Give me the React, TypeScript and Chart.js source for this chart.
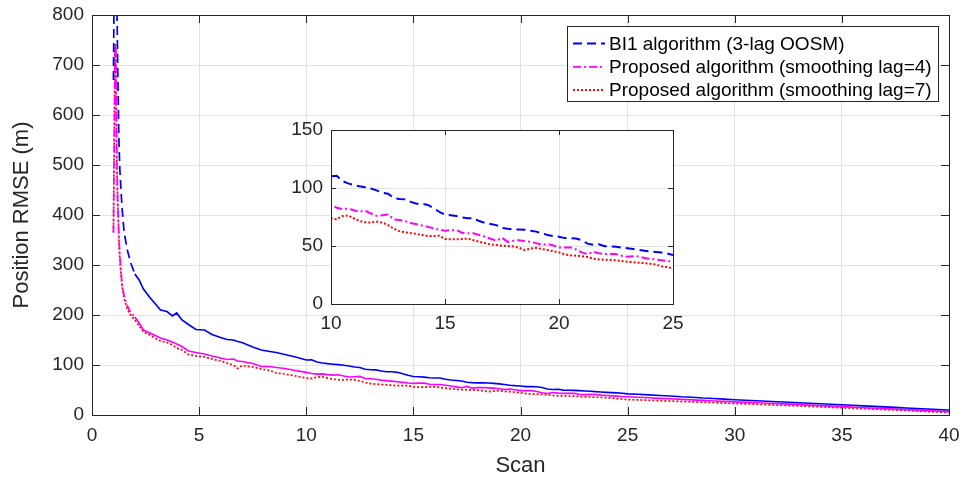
import React, { useEffect, useRef } from "react";
import { Chart, registerables } from "chart.js";

Chart.register(...registerables);

// ---------------- data ----------------
const scans = [
  1.0, 1.04, 1.08, 1.12, 1.16, 1.2, 1.25, 1.3, 1.4, 1.5, 1.65, 1.8, 2.0, 2.2, 2.4, 2.7, 3.0, 3.2, 3.5, 3.75,
  3.95, 4.2, 4.5, 4.85, 5.25, 5.6, 6.0, 6.3, 6.6, 6.8, 7.0, 7.5, 7.9, 8.3, 8.6, 9.0, 9.5,
  10, 10.25, 10.5, 10.75, 11, 11.25, 11.5, 11.75, 12, 12.25, 12.5, 12.75, 13, 13.25, 13.5, 13.75,
  14, 14.25, 14.5, 14.75, 15, 15.25, 15.5, 15.75, 16, 16.25, 16.5, 16.75, 17, 17.25, 17.5, 17.75,
  18, 18.25, 18.5, 18.75, 19, 19.25, 19.5, 19.75, 20, 20.25, 20.5, 20.75, 21, 21.25, 21.5, 21.75,
  22, 22.25, 22.5, 22.75, 23, 23.25, 23.5, 23.75, 24, 24.25, 24.5, 24.75, 25,
  25.5, 26, 26.5, 27, 27.5, 28, 28.5, 29, 29.5, 30, 30.5, 31, 31.5, 32, 32.5, 33, 33.5, 34, 34.5, 35,
  35.5, 36, 36.5, 37, 37.5, 38, 38.5, 39, 39.5, 40,
];

const bi1Rmse = [
  670, 900, 1100, 1000, 830, 700, 560, 490, 415, 365, 330, 305, 282, 270, 252, 235, 220, 210, 207, 198,
  204, 190, 181, 171, 170, 161, 155, 151, 150, 147, 145, 136, 130, 127, 125, 121, 116,
  110, 110.5, 106, 104, 102.6, 101.5, 100.6, 99.5, 98, 96, 95, 91.5, 90.5, 90.2, 88, 86.5,
  86.5, 85.4, 82.5, 79.5, 77, 76.5, 75.8, 74.5, 74, 74, 71.5, 70, 69, 68, 65.5, 64.8,
  64.4, 64.2, 64, 63.2, 62.4, 61, 59.5, 58.6, 58, 56.8, 56.8, 56.5, 55, 52, 51, 51.5,
  49.8, 49.5, 49.4, 48.6, 48, 47.5, 46.6, 46, 45.3, 44.8, 44.3, 43.5, 42.2,
  41.5, 40.2, 39, 38, 36.5, 35.5, 34, 33, 31.8, 30.5, 29.5, 28.5, 27.5, 26.5, 25.5, 24.5, 23.5, 22.5, 21.5, 20.5,
  19.5, 18.3, 17.2, 16.2, 15.2, 14, 13, 12, 11, 10,
];

const lag4Rmse = [
  365, 560, 740, 660, 510, 430, 365, 318, 262, 238, 218, 206, 196, 184, 170, 164, 158, 154, 150, 146,
  142, 137, 128, 125, 122, 118, 114, 111, 112, 108, 107, 103, 97, 97, 95, 93, 89,
  85.4, 83, 81.8, 82.3, 80.8, 79.6, 80.5, 78, 76, 76.5, 77.2, 73, 72.5, 71.5, 69.8, 68.8,
  67.6, 66.5, 65.2, 64, 63.2, 63.6, 63.8, 61.5, 61, 61, 59.5, 58, 56.3, 54.5, 57, 53.6,
  54.6, 55, 54.2, 53.6, 52.5, 51, 51.8, 50.5, 48.6, 48.6, 48.8, 47, 44.5, 43, 45, 43.8,
  43.2, 43.1, 43.1, 41.5, 40.8, 41.2, 41, 39.6, 39, 38.3, 37.8, 37, 36.5,
  35.5, 34.5, 33.3, 32.5, 31.3, 30.2, 29.2, 28, 27.2, 26.2, 25.3, 24.5, 23.5, 22.6, 21.7, 20.8, 19.8, 18.9, 17.8, 16.8,
  15.6, 14.5, 13.5, 12.6, 11.6, 10.6, 9.6, 8.7, 7.8, 6.8,
];

const lag7Rmse = [
  365, 570, 742, 650, 500, 420, 355, 310, 258, 232, 212, 200, 190, 178, 166, 160, 152, 148, 145, 140,
  134, 130, 121, 118, 116, 112, 108, 104, 100, 93, 99, 96, 92, 89, 84, 82, 78,
  73.9, 73, 75.8, 76.3, 73.9, 71.5, 70.5, 70.2, 71, 70.3, 68, 65, 62.8, 61.8, 61, 60.4,
  59.5, 58.6, 58.6, 58.8, 56, 55.8, 55.8, 56, 56.4, 55, 53.7, 52.5, 51.3, 50.8, 50.3, 50,
  49.6, 48.5, 46.5, 47.8, 48.5, 47.3, 46.5, 45.5, 44.5, 42.8, 42, 41.7, 41.2, 40.6, 39, 38.4,
  38.2, 38, 37.6, 37, 36.4, 36, 35.6, 35.2, 34.7, 34, 32.5, 31.8, 30.8,
  30.2, 29.5, 28.6, 27.8, 27, 26.3, 25.4, 24.6, 23.8, 23, 22.2, 21.3, 20.5, 19.8, 19, 18.1, 17.3, 16.4, 15.5, 14.6,
  13.6, 12.6, 11.7, 10.8, 9.9, 8.9, 8, 7, 6, 5,
];

const seriesLabels = [
  "BI1 algorithm (3-lag OOSM)",
  "Proposed algorithm (smoothing lag=4)",
  "Proposed algorithm (smoothing lag=7)",
];
const seriesColors = ["#0000ff", "#ff00ff", "#ff0000"];
const seriesDashes = [[9, 5], [8, 3, 2, 3], [2, 2]];

const xTitle = "Scan";
const yTitle = "Position RMSE (m)";

// ---------------- styling helpers ----------------
const FONT = "'Liberation Sans', Arial, Helvetica, sans-serif";
const AXIS_COLOR = "#262626";
const GRID_COLOR = "#e3e3e3";

function toPoints(ys: number[]) {
  return scans.map((x, i) => ({ x, y: ys[i] }));
}

function fitX(height: number) {
  return (s: any) => {
    s.height = height;
    s.paddingLeft = 0;
    s.paddingRight = 0;
  };
}

function fitY(width: number) {
  return (s: any) => {
    s.width = width;
    s.paddingTop = 0;
    s.paddingBottom = 0;
  };
}

function framePlugin(tickLen: number) {
  return {
    id: "frame" + tickLen,
    beforeDraw(chart: any) {
      const { ctx, chartArea: a } = chart;
      ctx.save();
      ctx.fillStyle = "#ffffff";
      ctx.fillRect(a.left, a.top, a.right - a.left, a.bottom - a.top);
      ctx.restore();
    },
    afterDatasetsDraw(chart: any) {
      const { ctx, chartArea: a, scales } = chart;
      const xs = scales.x;
      const ys = scales.y;
      ctx.save();
      ctx.strokeStyle = AXIS_COLOR;
      ctx.lineWidth = 1;
      ctx.beginPath();
      xs.ticks.forEach((t: any) => {
        const px = Math.round(xs.getPixelForValue(t.value)) + 0.5;
        ctx.moveTo(px, a.bottom);
        ctx.lineTo(px, a.bottom - tickLen);
        ctx.moveTo(px, a.top);
        ctx.lineTo(px, a.top + tickLen);
      });
      ys.ticks.forEach((t: any) => {
        const py = Math.round(ys.getPixelForValue(t.value)) + 0.5;
        ctx.moveTo(a.left, py);
        ctx.lineTo(a.left + tickLen, py);
        ctx.moveTo(a.right, py);
        ctx.lineTo(a.right - tickLen, py);
      });
      ctx.stroke();
      ctx.strokeRect(
        Math.round(a.left) + 0.5,
        Math.round(a.top) + 0.5,
        Math.round(a.right - a.left),
        Math.round(a.bottom - a.top)
      );
      ctx.restore();
    },
  };
}

const legendPlugin = {
  id: "boxLegend",
  afterDraw(chart: any) {
    const { ctx } = chart;
    const left = 567;
    const top = 26.5;
    const w = 371;
    const h = 75;
    const rows = [43.5, 66.8, 90];
    ctx.save();
    ctx.fillStyle = "#ffffff";
    ctx.fillRect(left, top, w, h);
    ctx.strokeStyle = AXIS_COLOR;
    ctx.lineWidth = 1;
    ctx.strokeRect(left + 0.5, top, w, h);
    chart.data.datasets.forEach((ds: any, i: number) => {
      const y = rows[i];
      ctx.beginPath();
      ctx.strokeStyle = ds.borderColor;
      ctx.lineWidth = 1.8;
      ctx.setLineDash(seriesDashes[i]);
      ctx.moveTo(573, y);
      ctx.lineTo(605, y);
      ctx.stroke();
      ctx.setLineDash([]);
      ctx.fillStyle = "#000000";
      ctx.font = `19px ${FONT}`;
      ctx.textBaseline = "middle";
      ctx.textAlign = "left";
      ctx.fillText(ds.label, 609, y + 1);
    });
    ctx.restore();
  },
};

function makeDatasets(inset: boolean) {
  const values = [bi1Rmse, lag4Rmse, lag7Rmse];
  return values.map((vals, i) => {
    const ds: any = {
      label: seriesLabels[i],
      data: toPoints(vals),
      borderColor: seriesColors[i],
      backgroundColor: seriesColors[i],
      borderWidth: inset ? 2 : 1.7,
      pointRadius: 0,
      tension: 0,
      fill: false,
      borderDash: inset || i === 2 ? seriesDashes[i] : [],
    };
    if (!inset && i !== 2) {
      ds.segment = {
        borderDash: (c: any) => (c.p0.parsed.x < 2 ? seriesDashes[i] : undefined),
      };
    }
    return ds;
  });
}

export default function App() {
  const mainRef = useRef<HTMLCanvasElement | null>(null);
  const insetRef = useRef<HTMLCanvasElement | null>(null);

  useEffect(() => {
    Chart.defaults.font.family = FONT;
    Chart.defaults.color = AXIS_COLOR;

    const main = new Chart(mainRef.current as HTMLCanvasElement, {
      type: "line",
      data: { datasets: makeDatasets(false) },
      options: {
        animation: false,
        responsive: false,
        devicePixelRatio: 1,
        layout: { padding: { top: 15, right: 15, left: 0, bottom: 0 } },
        plugins: { legend: { display: false }, tooltip: { enabled: false } },
        scales: {
          x: {
            type: "linear",
            min: 0,
            max: 40,
            afterFit: fitX(66),
            ticks: { stepSize: 5, font: { size: 19 }, color: AXIS_COLOR, padding: 9, maxRotation: 0 },
            grid: { color: GRID_COLOR, drawTicks: false },
            border: { display: false },
            title: {
              display: true,
              text: xTitle,
              font: { size: 22 },
              color: AXIS_COLOR,
              padding: { top: 0, bottom: 2 },
            },
          },
          y: {
            type: "linear",
            min: 0,
            max: 800,
            afterFit: fitY(92),
            ticks: { stepSize: 100, font: { size: 19 }, color: AXIS_COLOR, padding: 8 },
            grid: { color: GRID_COLOR, drawTicks: false },
            border: { display: false },
            title: {
              display: true,
              text: yTitle,
              font: { size: 22 },
              color: AXIS_COLOR,
              padding: { top: 9, bottom: 0 },
            },
          },
        },
      } as any,
      plugins: [framePlugin(8), legendPlugin],
    });

    const inset = new Chart(insetRef.current as HTMLCanvasElement, {
      type: "line",
      data: { datasets: makeDatasets(true) },
      options: {
        animation: false,
        responsive: false,
        devicePixelRatio: 1,
        layout: { padding: { top: 20, right: 17, left: 0, bottom: 0 } },
        plugins: { legend: { display: false }, tooltip: { enabled: false } },
        scales: {
          x: {
            type: "linear",
            min: 10,
            max: 25,
            afterFit: fitX(46),
            ticks: { stepSize: 5, font: { size: 19 }, color: AXIS_COLOR, padding: 8, maxRotation: 0 },
            grid: { color: GRID_COLOR, drawTicks: false },
            border: { display: false },
          },
          y: {
            type: "linear",
            min: 0,
            max: 150,
            afterFit: fitY(61),
            ticks: { stepSize: 50, font: { size: 19 }, color: AXIS_COLOR, padding: 8 },
            grid: { color: GRID_COLOR, drawTicks: false },
            border: { display: false },
          },
        },
      } as any,
      plugins: [framePlugin(5)],
    });

    return () => {
      main.destroy();
      inset.destroy();
    };
  }, []);

  return (
    <div style={{ position: "absolute", left: 0, top: 0, width: 964, height: 481, background: "#ffffff" }}>
      <canvas
        ref={mainRef}
        width={964}
        height={481}
        style={{ position: "absolute", left: 0, top: 0, width: 964, height: 481 }}
      />
      <canvas
        ref={insetRef}
        width={420}
        height={240}
        style={{ position: "absolute", left: 270, top: 110, width: 420, height: 240 }}
      />
    </div>
  );
}
